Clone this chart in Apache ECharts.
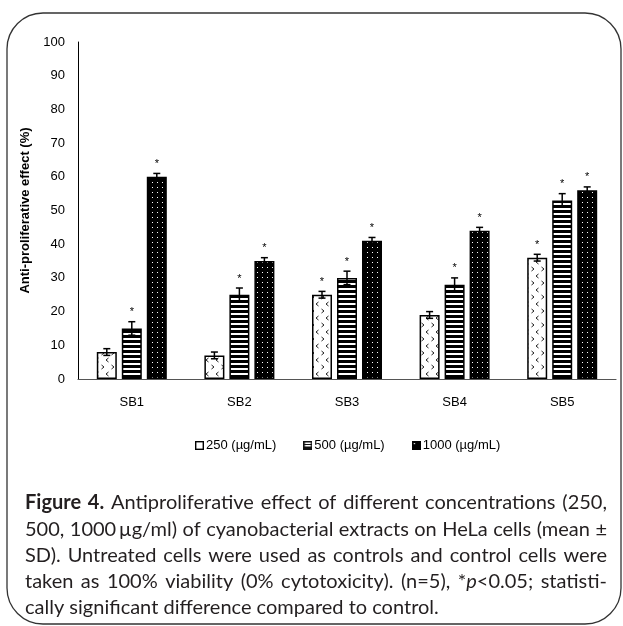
<!DOCTYPE html>
<html><head><meta charset="utf-8">
<script src="https://cdn.jsdelivr.net/npm/echarts@6/dist/echarts.min.js"></script>
<style>html,body{margin:0;padding:0;background:#fff}#c{width:623px;height:626px}</style>
</head><body><div id="c"></div>
<script>
// ---------- data ----------
const categories = ['SB1', 'SB2', 'SB3', 'SB4', 'SB5'];
const seriesNames = ['250 (µg/mL)', '500 (µg/mL)', '1000 (µg/mL)'];
const values250 = [8, 7, 25, 19, 36];
const values500 = [15, 25, 30, 28, 53];
const values1000 = [60, 35, 41, 44, 56];
const sd250 = [1, 1, 1, 1, 1];
const sd500 = [2, 2, 2, 2, 2];
const sd1000 = [1, 1, 1, 1, 1];
const sig250 = [0, 0, 1, 0, 1];
const sig500 = [1, 1, 1, 1, 1];
const sig1000 = [1, 1, 1, 1, 1];
const yMin = 0, yMax = 100, yInterval = 10;
const yAxisTitle = 'Anti-proliferative effect (%)';
const captionLines = [
  '{b|Figure} {b|4.} Antiproliferative effect of different concentrations (250,',
  '500, 1000\u2009µg/ml) of cyanobacterial extracts on HeLa cells (mean ±',
  'SD). Untreated cells were used as controls and control cells were',
  'taken as 100% viability (0% cytotoxicity). (n=5), *{i|p}<0.05; statisti-',
  'cally significant difference compared to control.'
];

// ---------- patterns ----------
function makeCanvas(w, h, draw) {
  const c = document.createElement('canvas'); c.width = w; c.height = h;
  draw(c.getContext('2d')); return c;
}
const pat250 = makeCanvas(10, 14, g => {
  g.fillStyle = '#fff'; g.fillRect(0, 0, 10, 14);
  g.strokeStyle = '#222'; g.lineWidth = 1;
  g.beginPath(); g.moveTo(1.5, 1); g.lineTo(4, 3); g.lineTo(1.5, 5); g.stroke();
  g.beginPath(); g.moveTo(8.5, 8); g.lineTo(6, 10); g.lineTo(8.5, 12); g.stroke();
});
const pat500 = makeCanvas(4, 5, g => {
  g.fillStyle = '#fff'; g.fillRect(0, 0, 4, 5);
  g.fillStyle = '#000'; g.fillRect(0, 0, 4, 3);
});
const pat1000 = makeCanvas(5, 5, g => {
  g.fillStyle = '#000'; g.fillRect(0, 0, 5, 5);
  g.fillStyle = '#fff'; g.fillRect(2, 2, 1, 1);
});
const patterns = [pat250, pat500, pat1000];

// legend icons
const icons = [
  makeCanvas(9, 9, g => { g.fillStyle = '#fff'; g.fillRect(0, 0, 9, 9); g.strokeStyle = '#000'; g.lineWidth = 1.4; g.strokeRect(0.7, 0.7, 7.6, 7.6); }),
  makeCanvas(9, 9, g => { g.fillStyle = '#111'; g.fillRect(0, 0, 9, 9); g.fillStyle = '#fff'; g.fillRect(1.5, 1.5, 6, 1.5); g.fillRect(1.5, 4, 6, 1.5); }),
  makeCanvas(9, 9, g => { g.fillStyle = '#000'; g.fillRect(0, 0, 9, 9); g.fillStyle = '#fff'; g.fillRect(2, 2, 1.2, 1.2); })
].map(c => 'image://' + c.toDataURL());

const vals = [values250, values500, values1000];
const sds = [sd250, sd500, sd1000];
const sigs = [sig250, sig500, sig1000];
const BAR_W = 20, GAP = 5;

const series = [];
seriesNames.forEach((nm, i) => {
  series.push({
    type: 'bar', name: nm, data: vals[i], barWidth: BAR_W, barGap: (GAP / BAR_W * 100) + '%',
    itemStyle: { color: { image: patterns[i], repeat: 'repeat' }, borderColor: '#000', borderWidth: 1.5 },
    emphasis: { disabled: true }
  });
});
seriesNames.forEach((nm, i) => {
  const off = (i - 1) * (BAR_W + GAP);
  series.push({
    type: 'custom', silent: true, z: 10,
    data: categories.map((c, k) => [k, vals[i][k], sds[i][k], sigs[i][k]]),
    encode: { x: 0, y: 1 },
    renderItem: (params, api) => {
      const k = api.value(0), v = api.value(1), sd = api.value(2), sig = api.value(3);
      const x = api.coord([k, v])[0] + off;
      const yT = api.coord([k, v + sd])[1];
      const yB = api.coord([k, v - sd])[1];
      const st = { stroke: '#000', lineWidth: 1.5 };
      const ch = [
        { type: 'line', shape: { x1: x, y1: yT, x2: x, y2: yB }, style: st },
        { type: 'line', shape: { x1: x - 3.5, y1: yT, x2: x + 3.5, y2: yT }, style: st },
        { type: 'line', shape: { x1: x - 3.5, y1: yB, x2: x + 3.5, y2: yB }, style: st }
      ];
      if (sig) ch.push({ type: 'text', x: x, y: yT - 4, style: { text: '*', fill: '#000', font: '11px "Liberation Sans"', align: 'center', verticalAlign: 'bottom' } });
      return { type: 'group', children: ch };
    }
  });
});

// ---------- caption (justified) ----------
const FF = 'Lato';
let FS = 18;
const mctx = document.createElement('canvas').getContext('2d');
function fontFor(tag) { return (tag === 'b' ? 'bold ' : tag === 'i' ? 'italic ' : '') + FS + 'px ' + FF; }
function segs(tok) {
  const out = []; const re = /\{(\w)\|([^}]*)\}|([^{]+)/g; let m;
  while ((m = re.exec(tok))) { if (m[1]) out.push({ tag: m[1], t: m[2] }); else out.push({ tag: '', t: m[3] }); }
  out.forEach(s => { mctx.font = fontFor(s.tag); s.w = mctx.measureText(s.t).width; });
  return out;
}
function natural(line) {
  const toks = line.split(' ').map(segs);
  mctx.font = fontFor(''); const sp = mctx.measureText(' ').width;
  return toks.reduce((a, s) => a + s.reduce((p, q) => p + q.w, 0), 0) + sp * (toks.length - 1);
}
const capX0 = 25, capW = 582, capY0 = 503, capLH = 26.2;
{
  let mx = 0;
  for (let i = 0; i < captionLines.length - 1; i++) mx = Math.max(mx, natural(captionLines[i]));
  FS = Math.min(20, FS * capW / mx);
}
const graphics = [{
  type: 'rect', z: -1, shape: { x: 7, y: 13, width: 614, height: 611, r: 36 },
  style: { fill: 'none', stroke: '#333', lineWidth: 1.3 }
}];
captionLines.forEach((line, li) => {
  const toks = line.split(' ').map(segs);
  const tw = toks.map(s => s.reduce((a, b) => a + b.w, 0));
  const sum = tw.reduce((a, b) => a + b, 0);
  mctx.font = fontFor(''); const sp = mctx.measureText(' ').width;
  const gap = (li < captionLines.length - 1) ? (capW - sum) / (toks.length - 1) : sp;
  let x = capX0; const y = capY0 + li * capLH;
  toks.forEach((s) => {
    s.forEach(sg => {
      graphics.push({ type: 'text', x: x, y: y, style: { text: sg.t, font: fontFor(sg.tag), fill: '#231f20', verticalAlign: 'middle' } });
      x += sg.w;
    });
    x += gap;
  });
});

const chart = echarts.init(document.getElementById('c'), null, { renderer: 'canvas' });
chart.setOption({
  animation: false,
  textStyle: { fontFamily: 'Liberation Sans' },
  grid: { left: 78, right: 7, top: 42, bottom: 247, containLabel: false },
  legend: {
    data: seriesNames.map((n, i) => ({ name: n, icon: icons[i] })),
    left: 190, top: 434, itemWidth: 9, itemHeight: 9, itemGap: 27,
    textStyle: { fontSize: 13, color: '#000', fontFamily: 'Liberation Sans', padding: [0, 0, 0, -3] },
    selectedMode: false
  },
  xAxis: {
    type: 'category', data: categories,
    axisLine: { lineStyle: { color: '#555', width: 1.2 } }, axisTick: { show: false },
    axisLabel: { color: '#000', fontSize: 13, margin: 17 }
  },
  yAxis: {
    type: 'value', min: yMin, max: yMax, interval: yInterval,
    name: yAxisTitle, nameLocation: 'middle', nameGap: 42,
    nameTextStyle: { fontWeight: 'bold', fontSize: 13, color: '#000', fontFamily: 'Liberation Sans' },
    axisLine: { show: true, lineStyle: { color: '#000', width: 1 } }, axisTick: { show: false },
    splitLine: { show: false },
    axisLabel: { color: '#000', fontSize: 13, margin: 13 }
  },
  series: series,
  graphic: graphics
});
</script></body></html>
